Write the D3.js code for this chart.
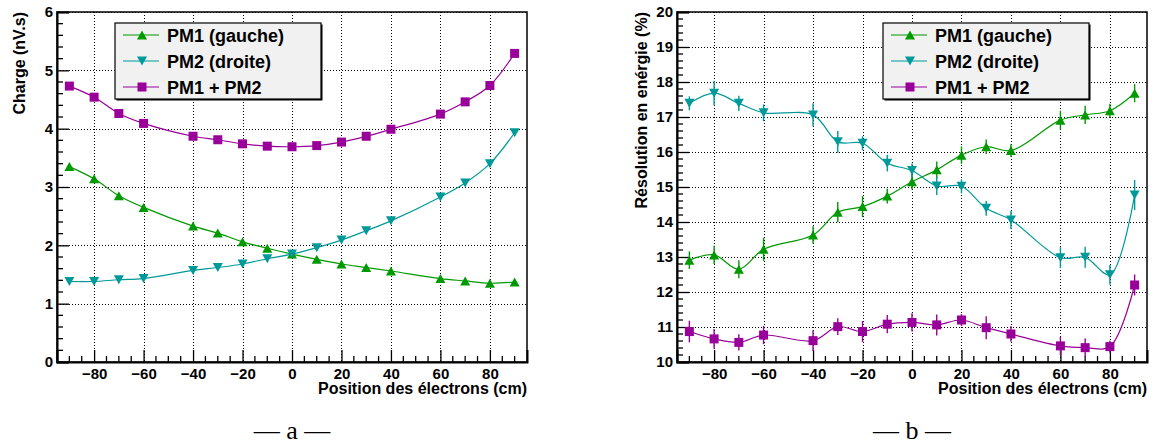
<!DOCTYPE html>
<html>
<head>
<meta charset="utf-8">
<script src="https://cdn.jsdelivr.net/npm/d3@7"></script>
<style>
  html, body { margin: 0; padding: 0; background: #fff; }
  svg { display: block; }
  text { font-family: "Liberation Sans", Arial, sans-serif; font-weight: bold; fill: #000; }
  .caption { font-family: "Liberation Serif", "DejaVu Serif", serif; font-weight: normal; }
</style>
</head>
<body>
<svg id="chart" width="1154" height="446"></svg>
<script>
// ---------- data ----------
const positions = [-90, -80, -70, -60, -40, -30, -20, -10, 0, 10, 20, 30, 40, 60, 70, 80, 90];

const legendLabels = ["PM1 (gauche)", "PM2 (droite)", "PM1 + PM2"];

// panel a : charge (nV.s)
const chargePM1 = [3.35, 3.14, 2.85, 2.65, 2.33, 2.21, 2.06, 1.95, 1.85, 1.76, 1.68, 1.62, 1.56, 1.43, 1.39, 1.35, 1.37];
const chargePM2 = [1.38, 1.38, 1.41, 1.43, 1.57, 1.62, 1.68, 1.77, 1.85, 1.96, 2.09, 2.25, 2.42, 2.83, 3.07, 3.40, 3.93];
const chargeSum = [4.73, 4.54, 4.26, 4.09, 3.87, 3.81, 3.74, 3.70, 3.69, 3.71, 3.77, 3.87, 3.99, 4.25, 4.46, 4.74, 5.29];

// panel b : energy resolution (%) with errors
const resPM1    = [12.91, 13.06, 12.65, 13.22, 13.63, 14.28, 14.44, 14.74, 15.15, 15.49, 15.91, 16.15, 16.04, 16.91, 17.06, 17.18, 17.68];
const resPM1Err = [0.25, 0.26, 0.26, 0.33, 0.25, 0.29, 0.30, 0.21, 0.22, 0.24, 0.25, 0.21, 0.18, 0.27, 0.26, 0.20, 0.26];
const resPM2    = [17.39, 17.68, 17.39, 17.12, 17.06, 16.29, 16.25, 15.68, 15.47, 15.03, 15.02, 14.39, 14.06, 12.98, 12.99, 12.49, 14.77];
const resPM2Err = [0.20, 0.35, 0.22, 0.24, 0.33, 0.31, 0.20, 0.24, 0.20, 0.26, 0.20, 0.21, 0.26, 0.30, 0.30, 0.28, 0.43];
const resSum    = [10.87, 10.66, 10.56, 10.77, 10.61, 11.01, 10.87, 11.08, 11.13, 11.06, 11.20, 10.98, 10.80, 10.46, 10.41, 10.44, 12.20];
const resSumErr = [0.31, 0.28, 0.23, 0.26, 0.30, 0.24, 0.30, 0.26, 0.26, 0.30, 0.17, 0.33, 0.22, 0.26, 0.26, 0.17, 0.30];

// ticks
const xTicks = [-80, -60, -40, -20, 0, 20, 40, 60, 80];
const chargeTicks = [0, 1, 2, 3, 4, 5, 6];
const resTicks = [10, 11, 12, 13, 14, 15, 16, 17, 18, 19, 20];

const xTitle = "Position des électrons (cm)";
const chargeTitle = "Charge (nV.s)";
const resTitle = "Résolution en enérgie (%)";

// ---------- styles ----------
const colors = ["#009a00", "#009999", "#990099"];
const shapes = ["up", "down", "square"];

const svg = d3.select("#chart");

function markerPath(shape) {
  if (shape === "up") return "M-5,4.5L5,4.5L0,-4.5Z";
  if (shape === "down") return "M-5,-4.5L5,-4.5L0,4.5Z";
  return "M-4.5,-4.5L4.5,-4.5L4.5,4.5L-4.5,4.5Z";
}

function drawPanel(cfg) {
  const g = svg.append("g");
  const x = d3.scaleLinear().domain([-95, 95]).range([cfg.left, cfg.right]);
  const y = d3.scaleLinear().domain(cfg.yDomain).range([362, 12]);

  // grid
  const grid = g.append("g").attr("stroke", "#000").attr("stroke-width", 1).attr("stroke-dasharray", "1,2");
  grid.selectAll("line.gx").data(xTicks).enter().append("line")
    .attr("x1", d => Math.round(x(d)) + 0.5).attr("x2", d => Math.round(x(d)) + 0.5)
    .attr("y1", 12).attr("y2", 362);
  grid.selectAll("line.gy").data(cfg.yTicks).enter().append("line")
    .attr("x1", cfg.left).attr("x2", cfg.right)
    .attr("y1", d => Math.round(y(d)) + 0.5).attr("y2", d => Math.round(y(d)) + 0.5);

  // frame
  g.append("rect").attr("x", cfg.left).attr("y", 12)
    .attr("width", cfg.right - cfg.left).attr("height", 350)
    .attr("fill", "none").attr("stroke", "#000").attr("stroke-width", 1.5);

  // x axis (ticks inside)
  const xAxis = d3.axisBottom(x).tickValues(xTicks).tickSize(-12).tickPadding(17).tickFormat(d3.format("d"));
  const xa = g.append("g").attr("transform", "translate(0,362)").call(xAxis);
  const xMinor = d3.range(-90, 91, 5).filter(v => v % 20 !== 0);
  xa.selectAll("line.minor").data(xMinor).enter().append("line").attr("class", "minor")
    .attr("x1", d => x(d)).attr("x2", d => x(d)).attr("y1", 0).attr("y2", -6);

  // y axis (ticks inside)
  const yAxis = d3.axisLeft(y).tickValues(cfg.yTicks).tickSize(-12).tickPadding(4).tickFormat(d3.format("d"));
  const ya = g.append("g").attr("transform", `translate(${cfg.left},0)`).call(yAxis);
  const yMinor = [];
  for (let i = 0; i < cfg.yTicks.length - 1; i++) {
    for (let k = 1; k < 5; k++) yMinor.push(cfg.yTicks[i] + k * (cfg.yTicks[i + 1] - cfg.yTicks[i]) / 5);
  }
  ya.selectAll("line.minor").data(yMinor).enter().append("line").attr("class", "minor")
    .attr("x1", 0).attr("x2", 6).attr("y1", d => y(d)).attr("y2", d => y(d));

  [xa, ya].forEach(a => {
    a.select(".domain").attr("stroke", "#000").attr("stroke-width", 2);
    a.selectAll("line").attr("stroke", "#000").attr("stroke-width", 1.3);
    a.selectAll("text").style("font-size", "15px").style("font-family", "Liberation Sans, Arial, sans-serif").style("font-weight", "bold");
  });
  ya.selectAll(".tick text").attr("x", -4);
  xa.selectAll(".tick text").attr("y", 17).attr("dy", 0);

  // titles
  g.append("text").attr("x", cfg.right).attr("y", 394).attr("text-anchor", "end")
    .style("font-size", "16px").text(xTitle);
  g.append("text").attr("transform", `translate(${cfg.titleX},12) rotate(-90)`)
    .attr("text-anchor", "end").style("font-size", "16px").text(cfg.yTitle);

  // series
  const line = d3.line().x(d => x(d.p)).y(d => y(d.v)).curve(d3.curveCatmullRom.alpha(0.5));
  cfg.series.forEach((s, i) => {
    const pts = positions.map((p, j) => ({ p, v: s.values[j], e: s.errors ? s.errors[j] : 0 }));
    const sg = g.append("g");
    sg.append("path").datum(pts).attr("d", line).attr("fill", "none")
      .attr("stroke", colors[i]).attr("stroke-width", 1.2);
    if (s.errors) {
      sg.selectAll("line.err").data(pts).enter().append("line")
        .attr("x1", d => x(d.p)).attr("x2", d => x(d.p))
        .attr("y1", d => y(d.v - d.e)).attr("y2", d => y(d.v + d.e))
        .attr("stroke", colors[i]).attr("stroke-width", 1.4);
    }
    sg.selectAll("path.mk").data(pts).enter().append("path").attr("class", "mk")
      .attr("d", markerPath(shapes[i]))
      .attr("transform", d => `translate(${x(d.p)},${y(d.v)})`)
      .attr("fill", colors[i]);
  });

  // legend
  const lg = g.append("g");
  const lx = cfg.legendX, lw = 206;
  lg.append("rect").attr("x", lx + 1.5).attr("y", 24.5).attr("width", lw).attr("height", 76).attr("fill", "#000");
  lg.append("rect").attr("x", lx).attr("y", 23).attr("width", lw).attr("height", 76)
    .attr("fill", "#f1f1f1").attr("stroke", "#000").attr("stroke-width", 1.2);
  legendLabels.forEach((lab, i) => {
    const cy = 35 + i * 26;
    lg.append("line").attr("x1", lx + 8).attr("x2", lx + 44).attr("y1", cy).attr("y2", cy)
      .attr("stroke", colors[i]).attr("stroke-width", 1.2);
    lg.append("path").attr("d", markerPath(shapes[i])).attr("transform", `translate(${lx + 27},${cy})`).attr("fill", colors[i]);
    lg.append("text").attr("x", lx + 52).attr("y", cy + 6.5).style("font-size", "18px").text(lab);
  });

  // caption
  svg.append("text").attr("class", "caption").attr("x", x(0)).attr("y", 439)
    .attr("text-anchor", "middle").style("font-size", "26px").text(cfg.caption);
}

drawPanel({
  left: 57, right: 527, yDomain: [0, 6], yTicks: chargeTicks, yTitle: chargeTitle, titleX: 25,
  legendX: 115, caption: "— a —",
  series: [{ values: chargePM1 }, { values: chargePM2 }, { values: chargeSum }]
});

drawPanel({
  left: 677, right: 1147, yDomain: [10, 20], yTicks: resTicks, yTitle: resTitle, titleX: 647,
  legendX: 883, caption: "— b —",
  series: [{ values: resPM1, errors: resPM1Err }, { values: resPM2, errors: resPM2Err }, { values: resSum, errors: resSumErr }]
});
</script>
</body>
</html>
